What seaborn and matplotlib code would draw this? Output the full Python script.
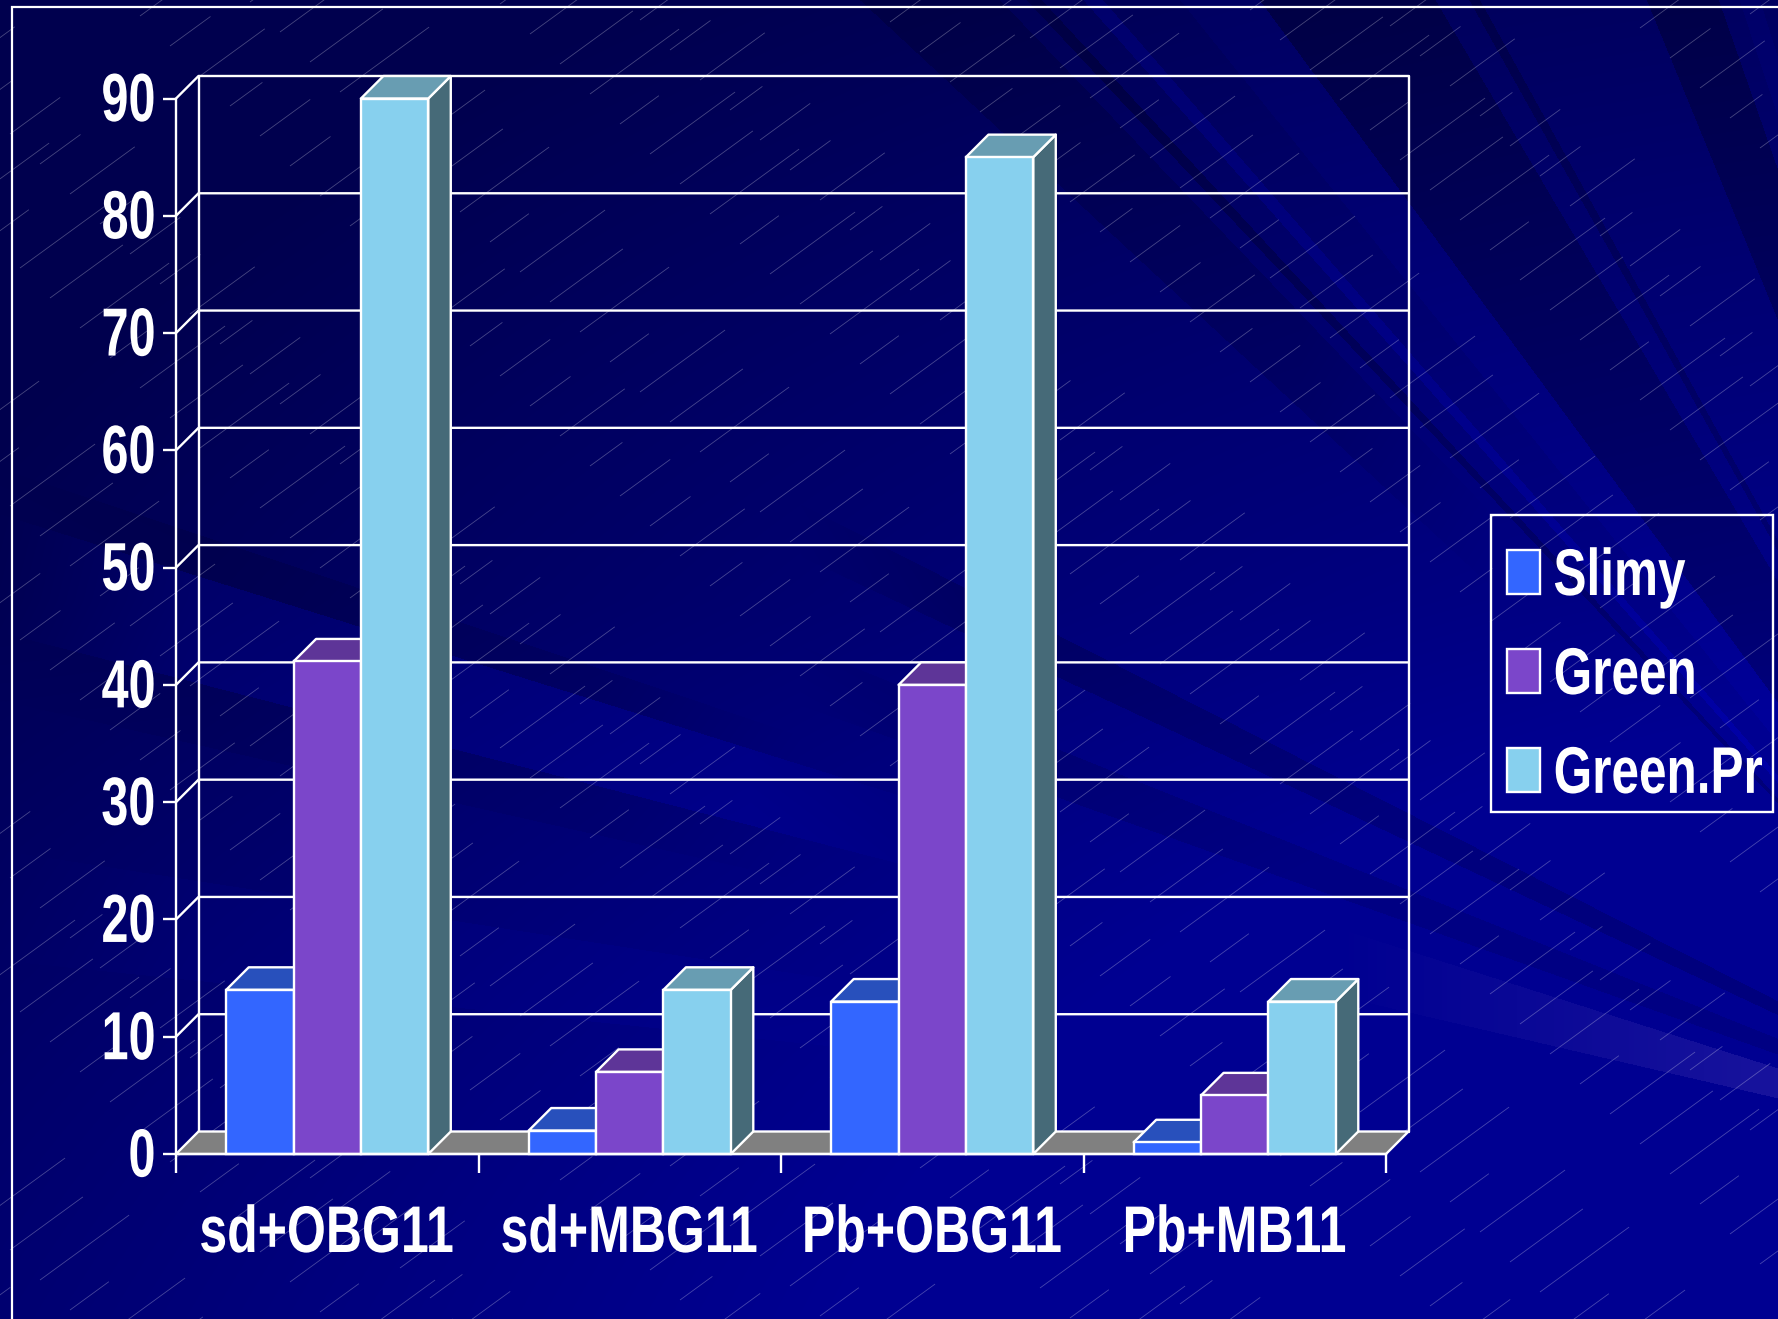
import numpy as np
import pandas as pd
import seaborn as sns
import matplotlib
matplotlib.use("Agg")
import matplotlib.pyplot as plt
from matplotlib import font_manager as fm
from matplotlib.collections import LineCollection
from matplotlib.patches import Polygon, Rectangle
from matplotlib.patheffects import AbstractPathEffect
from matplotlib.transforms import Affine2D, Bbox

# ---- chart values ----
categories = ["sd+OBG11", "sd+MBG11", "Pb+OBG11", "Pb+MB11"]
slimy = [14, 2, 13, 1]
green = [42, 7, 40, 5]
green_pr = [90, 14, 85, 13]
series_names = ["Slimy", "Green", "Green.Pr"]
y_ticks = list(range(0, 100, 10))

# ---- colours ----
front_colors = ["#3366FF", "#7B46CA", "#87D0EE"]
top_colors = ["#2850BC", "#5E3598", "#689DB2"]
side_colors = ["#264C80", "#402468", "#466A78"]
WHITE = "#FFFFFF"

W, H = 1778, 1319
sns.set_theme(style="white")


def pick_font():
    try:
        fm.findfont(fm.FontProperties(family="Liberation Sans Narrow", weight="bold"),
                    fallback_to_default=False)
        return "Liberation Sans Narrow", 1.0
    except ValueError:
        return "Liberation Sans", 0.82


FONT, NARROW_SCALE = pick_font()
plt.rcParams["font.family"] = [FONT, "Liberation Sans", "DejaVu Sans"]


class Condensed(AbstractPathEffect):
    """Squeezes a text path horizontally around one of its edges or its centre."""

    def __init__(self, factor, anchor="center", lift=0.0, shift=0.0):
        super().__init__()
        self.factor = factor
        self.anchor = anchor
        self.lift = lift
        self.shift = shift

    def draw_path(self, renderer, gc, tpath, affine, rgbFace=None):
        ext = tpath.get_extents()
        cx = {"left": ext.x0, "right": ext.x1, "center": (ext.x0 + ext.x1) / 2}[self.anchor]
        squeeze = Affine2D().translate(-cx, 0).scale(self.factor, 1).translate(cx, 0)
        placed = affine.frozen().translate(self.shift, self.lift)
        renderer.draw_path(gc, tpath, squeeze + placed, rgbFace)


def condense(text, factor, anchor, lift=0.0, shift=0.0):
    """Apply the squeeze to a text and keep its reported extent equal to what is drawn."""
    factor = factor * NARROW_SCALE
    text.set_path_effects([Condensed(factor, anchor, lift, shift)])
    plain_extent = text.get_window_extent

    def squeezed_extent(renderer=None, dpi=None):
        box = plain_extent(renderer, dpi)
        full = box.width
        if anchor == "left":
            x0, x1 = box.x0, box.x0 + full * factor
        elif anchor == "right":
            x0, x1 = box.x1 - full * factor, box.x1
        else:
            mid = (box.x0 + box.x1) / 2
            x0, x1 = mid - full * factor / 2, mid + full * factor / 2
        return Bbox.from_extents(x0 + shift, box.y0 + lift, x1 + shift, box.y1 + lift)

    text.get_window_extent = squeezed_extent


fig = plt.figure(figsize=(W / 100, H / 100), dpi=100)

# ---- slide backdrop: rays spreading from a point beyond the lower right corner ----
bg = fig.add_axes([0, 0, 1, 1], zorder=-5)
bg.set_xlim(0, W)
bg.set_ylim(H, 0)
bg.axis("off")

FX, FY = 2130.0, 1180.0
yy, xx = np.mgrid[0:H, 0:W]
dist = np.hypot((xx - FX) * 0.6, yy - FY)
blue = np.clip(176 - 0.066 * dist, 78, 146) + np.clip((yy - 600) * 0.03, 0, 30)
blue = np.minimum(blue, 145)
theta = np.arctan2(FY - yy, FX - xx)


def ray_angle(x, y):
    return np.arctan2(FY - y, FX - x)


# each band: two points on its edges, change of the blue channel, horizontal extent
ray_bands = [
    (0, 468, 0, 514, -10, 0, 800),
    (0, 514, 0, 632, 16, 0, 950),
    (0, 632, 0, 700, -6, 0, 800),
    (0, 850, 0, 960, 6, 0, 900),
    (1416, 817, 1416, 845, -20, 800, 2000),
    (1416, 893, 1416, 925, -14, 800, 2000),
    (1407, 200, 1553, 200, -22, 900, 2000),
    (1341, 200, 1407, 200, 8, 900, 2000),
    (1120, 100, 1134, 100, -24, 900, 2000),
    (1172, 100, 1190, 100, 20, 900, 2000),
    (1581, 200, 1590, 200, -20, 900, 2000),
    (1660, 33, 1730, 33, -24, 900, 2000),
    (1750, 33, 1770, 33, 8, 900, 2000),
    (860, 0, 1000, 0, -14, 500, 1500),
]
for x1, y1, x2, y2, delta, xa, xb in ray_bands:
    a1, a2 = sorted((ray_angle(x1, y1), ray_angle(x2, y2)))
    reach = np.clip((xx - xa) / 200, 0, 1) * np.clip((xb - xx) / 200, 0, 1)
    blue = blue + delta * reach * ((theta >= a1) & (theta < a2))

# the pale streak that brightens towards the right edge
a1, a2 = sorted((ray_angle(1778, 1068), ray_angle(1778, 1098)))
fade = np.clip((xx - 1330) / 448, 0, 1)
glow = fade * ((theta >= a1) & (theta < a2))
blue = np.clip(blue + 12 * glow, 0, 255)
red = 24 * glow
rgb = np.dstack([red, red * 0.8, blue]) / 255.0
bg.imshow(rgb, extent=(0, W, H, 0), aspect="auto", interpolation="nearest", zorder=0)

# fine diagonal hatch over the backdrop
streak_lengths = [48, 80, 105, 40, 90, 62, 110, 50]
streaks = []
for n in range(-70, 110):
    for m in range(-30, 40):
        sx0 = 30 * n + 110 * m
        sy0 = 30 * n - 14 * m
        if (n * 3 + m * 5) % 3 == 0 or not (-60 < sx0 < W and 0 < sy0 < H + 60):
            continue
        length = streak_lengths[(n * 2 + m * 3) % len(streak_lengths)]
        streaks.append([(sx0, sy0), (sx0 + 0.81 * length, sy0 - 0.59 * length)])
bg.add_collection(LineCollection(streaks, colors=WHITE, linewidths=0.6, alpha=0.28, zorder=1))

# slide border along the top and left edges
bg.plot([12, 12, W], [H, 7, 7], color=WHITE, lw=1.6, zorder=2, solid_joinstyle="miter")

# ---- main chart ----
ax = fig.add_axes([176 / W, 1 - 1154 / H, (1386 - 176) / W, (1154 - 98.5) / H], zorder=2)
ax.patch.set_alpha(0)

df = pd.DataFrame({
    "category": np.repeat(categories, 3),
    "series": series_names * len(categories),
    "value": np.ravel(np.column_stack([slimy, green, green_pr])),
})
sns.barplot(data=df, x="category", y="value", hue="series", hue_order=series_names,
            order=categories, palette=front_colors, saturation=1, width=0.668, gap=0,
            edgecolor=WHITE, linewidth=1.7, ax=ax)
ax.set_xlim(-0.5, 3.5)
ax.set_ylim(0, 90)
ax.set_xlabel("")
ax.set_ylabel("")

# depth of the pseudo-3D box, as data offsets
DX = 22.5 / ((1386 - 176) / 4)
DY = 22.5 / ((1154 - 98.5) / 90)
x_lo, x_hi = -0.5, 3.5
LW = 1.7

# floor
ax.add_patch(Polygon([(x_lo, 0), (x_lo + DX, DY), (x_hi + DX, DY), (x_hi, 0)],
                     facecolor="#808080", edgecolor=WHITE, lw=LW, clip_on=False, zorder=1))
# back wall with horizontal rules and the slanted joins to the axis
for v in y_ticks[1:]:
    ax.plot([x_lo, x_lo + DX, x_hi + DX], [v, v + DY, v + DY], color=WHITE, lw=LW,
            clip_on=False, zorder=0.8)
ax.plot([x_lo + DX, x_lo + DX], [DY, 90 + DY], color=WHITE, lw=LW, clip_on=False, zorder=0.8)
ax.plot([x_hi + DX, x_hi + DX], [DY, 90 + DY], color=WHITE, lw=LW, clip_on=False, zorder=0.8)

# bars drawn left to right so each front face hides its neighbour's side
bars = sorted([p for p in ax.patches if isinstance(p, Rectangle) and p.get_height() > 0],
              key=lambda p: p.get_x())
for order, bar in enumerate(bars):
    x0, w, h = bar.get_x(), bar.get_width(), bar.get_height()
    idx = front_colors.index(matplotlib.colors.to_hex(bar.get_facecolor()).upper())
    z = 2 + order * 0.1
    ax.add_patch(Polygon([(x0 + w, 0), (x0 + w + DX, DY), (x0 + w + DX, h + DY), (x0 + w, h)],
                         facecolor=side_colors[idx], edgecolor=WHITE, lw=LW,
                         clip_on=False, zorder=z, joinstyle="round"))
    ax.add_patch(Polygon([(x0, h), (x0 + DX, h + DY), (x0 + w + DX, h + DY), (x0 + w, h)],
                         facecolor=top_colors[idx], edgecolor=WHITE, lw=LW,
                         clip_on=False, zorder=z, joinstyle="round"))
    bar.set_zorder(z + 0.01)
    bar.set_clip_on(False)

for name, spine in ax.spines.items():
    spine.set_visible(name in ("left", "bottom"))
    spine.set_color(WHITE)
    spine.set_linewidth(LW)
    spine.set_zorder(6)
ax.set_yticks(y_ticks)
ax.set_xticks(range(len(categories)))
ax.set_xticks(np.arange(-0.5, 4.0, 1.0), minor=True)
ax.set_xticklabels(categories)
ax.tick_params(axis="y", length=9.4, width=LW, color=WHITE, left=True, pad=5.5,
               labelcolor=WHITE, labelsize=49)
ax.tick_params(axis="x", which="major", length=0, pad=36, labelcolor=WHITE, labelsize=47.5)
ax.tick_params(axis="x", which="minor", length=13.7, width=LW, color=WHITE, bottom=True)

for label in ax.get_yticklabels():
    label.set_fontweight("bold")
    condense(label, 0.87, "right", lift=2.5, shift=1.0)
for label in ax.get_xticklabels():
    label.set_fontweight("bold")
    condense(label, 0.925, "center", shift=-0.5)

# ---- legend ----
handles, labels = ax.get_legend_handles_labels()
FS = 47.5
FS_PX = FS * 100 / 72
legend = ax.legend(handles, labels, loc="upper left", bbox_to_anchor=(1507 / W, 1 - 547 / H),
                   bbox_transform=fig.transFigure, frameon=False, prop={"weight": "bold", "size": FS},
                   handlelength=33 / FS_PX, handleheight=43 / FS_PX, handletextpad=13 / FS_PX,
                   labelspacing=0.56, borderpad=0, borderaxespad=0)
for text in legend.get_texts():
    text.set_color(WHITE)
    condense(text, 0.915, "left")
for patch in legend.get_patches():
    patch.set_edgecolor(WHITE)
    patch.set_linewidth(LW)
bg.add_patch(Rectangle((1491, 515), 1773 - 1491, 812 - 515, facecolor="none", edgecolor=WHITE,
                       lw=LW, zorder=3))

fig.savefig("out.png", dpi=100)
